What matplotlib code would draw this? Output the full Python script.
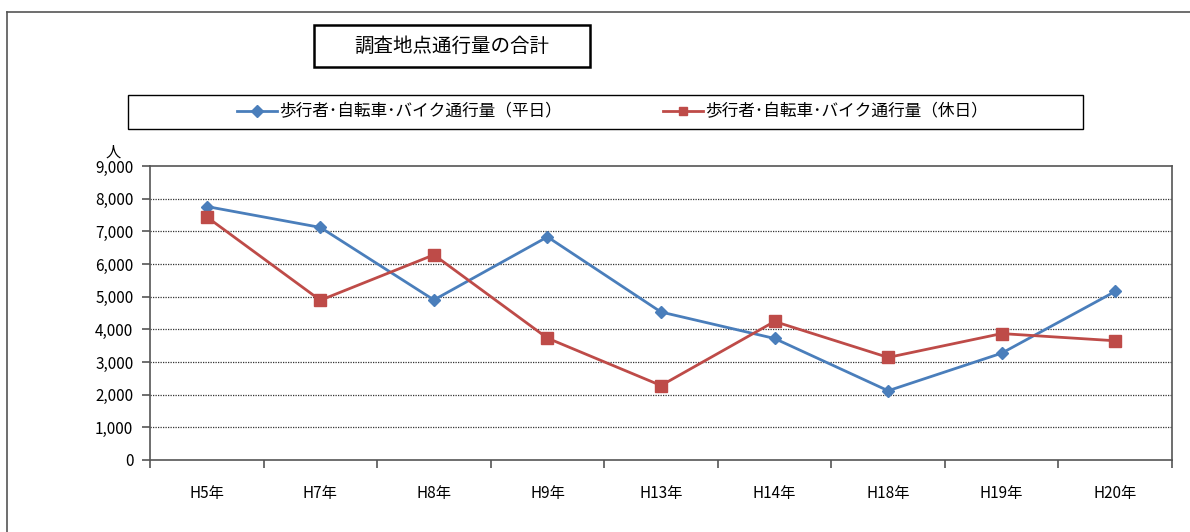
import numpy as np
import matplotlib.pyplot as plt
from matplotlib.lines import Line2D
from matplotlib.patches import Rectangle
from matplotlib.ticker import FuncFormatter

plt.rcParams['font.family'] = ['Noto Sans CJK JP', 'DejaVu Sans']

# データ
categories = ['H5年', 'H7年', 'H8年', 'H9年', 'H13年', 'H14年', 'H18年', 'H19年', 'H20年']
weekday = [7760, 7120, 4900, 6830, 4530, 3720, 2120, 3270, 5160]
holiday = [7440, 4890, 6280, 3730, 2280, 4240, 3140, 3870, 3650]
label_weekday = '歩行者･自転車･バイク通行量（平日）'
label_holiday = '歩行者･自転車･バイク通行量（休日）'
title = '調査地点通行量の合計'

W, H = 1190, 532
fig = plt.figure(figsize=(W / 100, H / 100), dpi=100)

# 外枠
fig.add_artist(Line2D([7 / W, 7 / W], [0, 1 - 12 / H], color='#555555', lw=1.2))
fig.add_artist(Line2D([7 / W, 1], [1 - 12 / H, 1 - 12 / H], color='#555555', lw=1.2))

ax = fig.add_axes([150 / W, 72 / H, 1022 / W, 294 / H])
x = np.arange(len(categories))
blue = '#4A7EBB'
red = '#BE4B48'
ax.plot(x, weekday, color=blue, lw=2, marker='D', ms=6, label=label_weekday)
ax.plot(x, holiday, color=red, lw=2, marker='s', ms=8, label=label_holiday)

ax.set_xlim(-0.5, len(categories) - 0.5)
ax.set_ylim(0, 9000)
ax.set_yticks(np.arange(0, 9001, 1000))
ax.yaxis.set_major_formatter(FuncFormatter(lambda v, p: f'{int(v):,}'))
ax.set_xticks(x)
ax.set_xticklabels(categories)
ax.set_xticks(np.arange(-0.5, len(categories), 1), minor=True)
ax.tick_params(axis='x', which='major', length=0, pad=18, labelsize=11)
ax.tick_params(axis='x', which='minor', length=6, width=1.2, color='#555555', direction='out')
ax.tick_params(axis='y', length=6, width=1.2, color='#555555', labelsize=11, pad=6)

for y in range(1000, 9000, 1000):
    ax.axhline(y, color='#333333', lw=0.9, ls=(0, (1, 1)), zorder=0)
for s in ax.spines.values():
    s.set_color('#555555')
    s.set_linewidth(1.2)

ax.text(-0.036, 1.02, '人', transform=ax.transAxes, fontsize=11, ha='center', va='bottom')

# タイトル枠
fig.add_artist(Rectangle((314 / W, 1 - 67 / H), 276 / W, 42 / H, fill=False,
                         edgecolor='black', lw=1.8, transform=fig.transFigure))
fig.text(452 / W, 1 - 46 / H, title, ha='center', va='center', fontsize=14)

# 凡例
fig.add_artist(Rectangle((128 / W, 1 - 129 / H), 955 / W, 34 / H, fill=False,
                         edgecolor='black', lw=1.0, transform=fig.transFigure))
handles, labels = ax.get_legend_handles_labels()
leg = fig.legend(handles, labels, loc='center left', ncol=2, frameon=False,
                 bbox_to_anchor=(230 / W, 1 - 112 / H), fontsize=12,
                 handlelength=2.4, handletextpad=0.15, columnspacing=6.05, borderaxespad=0)
for h in leg.legend_handles:
    h.set_markersize(6)

fig.savefig('out.png', dpi=100)
